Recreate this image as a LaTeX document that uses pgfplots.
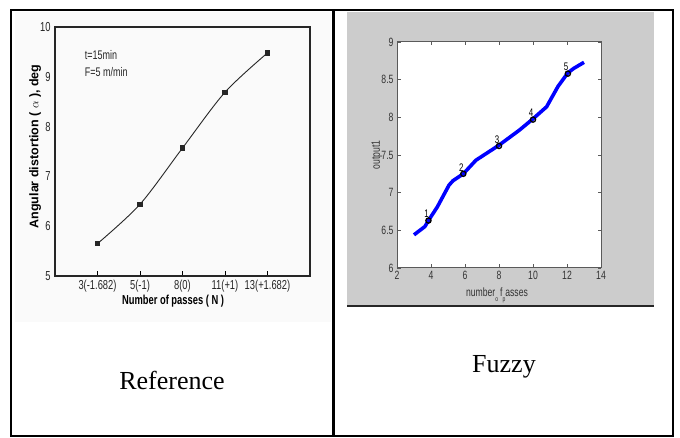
\documentclass[border=0pt]{standalone}
\usepackage{fontspec}
\setmainfont{Liberation Serif}
\newfontfamily\narrowsans[FakeStretch=0.72]{Liberation Sans}
\newfontfamily\plainsans{Liberation Sans}
\usepackage{pgfplots}
\pgfplotsset{compat=1.18}
\definecolor{matgray}{RGB}{204,204,204}
\definecolor{scanbg}{RGB}{250,250,250}
\definecolor{axgray}{RGB}{90,90,90}
\begin{document}
\begin{tikzpicture}[x=1pt,y=1pt]
\path[use as bounding box] (0,0) rectangle (680,438);
% scanned chart background
\fill[scanbg] (15,116) rectangle (331,426);
% matlab figure background
\fill[matgray] (347,133) rectangle (654,426);
\draw[line width=1.2pt, black!85] (347,132) -- (654,132);
% table lines
\draw[line width=2pt] (10.5,428.2) rectangle (673,1.5);
\draw[line width=2.4pt] (333.5,428.2) -- (333.5,1.5);

% ---------- left chart ----------
\begin{axis}[
  at={(55pt,162pt)}, anchor=south west,
  scale only axis, width=255pt, height=249pt,
  xmin=0, xmax=6, ymin=5, ymax=10,
  xtick={1,2,3,4,5},
  xticklabels={3(-1.682),5(-1),8(0),11(+1),13(+1.682)},
  ytick={5,6,7,8,9,10},
  tick align=inside, xtick pos=bottom, ytick pos=left,
  ytick style={draw=none},
  xtick style={line width=0.9pt, black},
  major tick length=5pt,
  axis line style={line width=1.3pt, black!85},
  /pgf/number format/assume math mode=true,
  tick label style={font=\fontsize{13}{14}\narrowsans, black!85},
  xticklabel style={yshift=-1pt},
  yticklabel style={xshift=-1pt},
  xlabel={Number of passes ( N )},
  ylabel={Angular distortion ( $\alpha$ ), deg},
  xlabel style={at={(axis description cs:0.463,-0.10)}, anchor=center, font=\fontsize{13}{14}\narrowsans\bfseries},
  ylabel style={at={(axis description cs:-0.078,0.52)}, anchor=center, font=\fontsize{12.5}{14}\plainsans\bfseries},
  clip=false,
]
\addplot[smooth, black!85, line width=0.9pt, mark=square*, mark size=2.2pt,
  mark options={solid, fill=black!85}]
  coordinates {(1,5.65) (2,6.44) (3,7.57) (4,8.69) (5,9.48)};
\node[anchor=west, font=\fontsize{12.5}{14}\narrowsans, black!85] at (axis cs:0.62,9.44) {t=15min};
\node[anchor=west, font=\fontsize{12.5}{14}\narrowsans, black!85] at (axis cs:0.62,9.10) {F=5 m/min};
\end{axis}

% ---------- right chart ----------
\begin{axis}[
  at={(397pt,170pt)}, anchor=south west,
  scale only axis, width=204pt, height=226pt,
  xmin=2, xmax=14, ymin=6, ymax=9,
  xtick={2,4,...,14},
  ytick={6,6.5,7,7.5,8,8.5,9},
  tick align=inside,
  major tick length=3.5pt,
  tick style={axgray, line width=0.6pt},
  axis background/.style={fill=white},
  axis line style={axgray, line width=1pt},
  /pgf/number format/assume math mode=true,
  tick label style={font=\fontsize{12}{13}\narrowsans, black!80},
  xlabel={number\raisebox{-5pt}{\fontsize{7}{7}\selectfont o}\,f\raisebox{-5pt}{\fontsize{7}{7}\selectfont p}asses},
  ylabel={output1},
  xlabel style={at={(axis description cs:0.49,-0.12)}, anchor=center, font=\fontsize{12}{13}\narrowsans, black!80},
  ylabel style={at={(axis description cs:-0.098,0.5)}, anchor=center, font=\fontsize{12}{13}\narrowsans, black!80},
  clip=false,
]
\addplot[blue, line width=3.6pt, line join=round]
  coordinates {(3,6.44) (3.64,6.55) (3.85,6.63) (4.37,6.81) (5.06,7.10) (5.3,7.16) (5.9,7.25)
               (6.64,7.43) (8,7.63) (9.2,7.83) (10,7.98) (10.8,8.14) (11.47,8.41)
               (12.05,8.59) (12.4,8.65) (13,8.73)};
\addplot[only marks, black, mark=o, mark size=2.6pt, line width=1.3pt,
  nodes near coords, point meta=explicit symbolic,
  every node near coord/.style={anchor=south east, inner sep=1pt, xshift=2pt, yshift=1pt,
    font=\fontsize{11}{11}\narrowsans, black}]
  coordinates {(3.85,6.63) [1] (5.9,7.25) [2] (8,7.62) [3] (10,7.97) [4] (12.05,8.58) [5]};
\end{axis}

% captions
\node[font=\fontsize{26}{28}\selectfont] at (172,58) {Reference};
\node[font=\fontsize{26}{28}\selectfont] at (504,71) {Fuzzy};
\end{tikzpicture}
\end{document}
